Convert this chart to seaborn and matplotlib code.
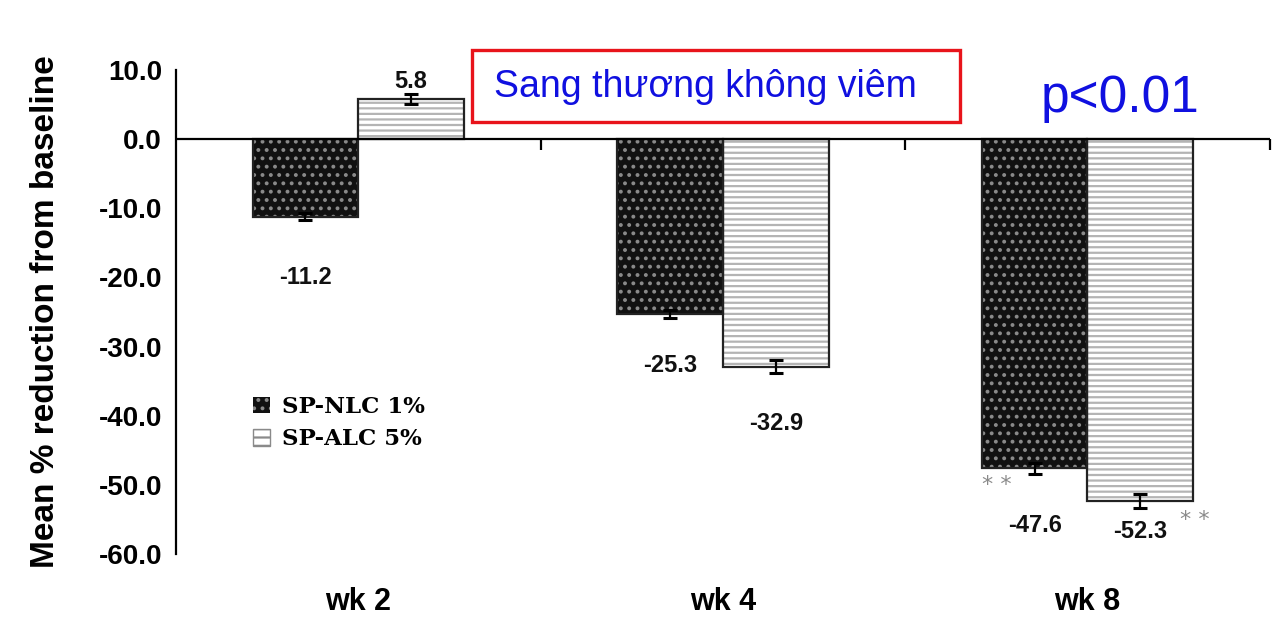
import matplotlib
matplotlib.use("Agg")
import matplotlib.pyplot as plt
import seaborn as sns
import pandas as pd
from matplotlib.patches import Patch, Rectangle

# chart data
weeks = ["wk 2", "wk 4", "wk 8"]
groups = ["SP-NLC 1%", "SP-ALC 5%"]
nlc_mean = [-11.2, -25.3, -47.6]
alc_mean = [5.8, -32.9, -52.3]
nlc_err = [0.5, 0.6, 0.8]
alc_err = [0.7, 0.9, 1.0]
y_ticks = [10, 0, -10, -20, -30, -40, -50, -60]
title_text = "Sang thương không viêm"
p_text = "p<0.01"
star_text = "* *"

df = pd.DataFrame({
    "week": weeks * 2,
    "group": [groups[0]] * 3 + [groups[1]] * 3,
    "mean": nlc_mean + alc_mean,
    "err": nlc_err + alc_err,
})

sns.set_theme(style="white")
plt.rcParams["font.family"] = ["Liberation Sans", "DejaVu Sans"]
plt.rcParams["hatch.linewidth"] = 1.6
for k in ["text.color", "axes.labelcolor", "xtick.color", "ytick.color"]:
    plt.rcParams[k] = "black"

fig = plt.figure(figsize=(12.8, 6.2), dpi=100)
ax = fig.add_axes([0.1375, 0.1065, 0.8545, 0.7805])

sns.barplot(data=df, x="week", y="mean", hue="group", order=weeks,
            hue_order=groups, width=0.58, errorbar=None, legend=False,
            palette=["#111111", "white"], saturation=1, ax=ax)

# bar styling: dotted dark bars, dashed light bars
styles = [dict(fc="#111111", ec="#8a8a8a", hatch="..")] * 3 + \
         [dict(fc="white", ec="#b4b4b4", hatch="---")] * 3
bars = list(ax.patches)
for p, st in zip(bars, styles):
    p.set_facecolor(st["fc"])
    p.set_edgecolor(st["ec"])
    p.set_hatch(st["hatch"])
    p.set_linewidth(0)
    ax.add_patch(Rectangle(p.get_xy(), p.get_width(), p.get_height(),
                           fill=False, ec="#222222", lw=1.6, zorder=3))

xs = [p.get_x() + p.get_width() / 2 for p in bars]
ys = [p.get_height() for p in bars]
ax.errorbar(xs, ys, yerr=df["err"], fmt="none", ecolor="black",
            elinewidth=1.6, capsize=5, capthick=2.2, zorder=4)

# value labels
label_offsets = [-44, -37, -41, 13, -41, -22]
for x, y, off in zip(xs, ys, label_offsets):
    ax.annotate(f"{y:.1f}", (x, y), xytext=(0, off), textcoords="offset points",
                ha="center", va="center", fontsize=17, fontweight="bold",
                color="#111111")

# significance stars on wk 8
ax.annotate(star_text, (xs[2], ys[2]), xytext=(-27, -12), textcoords="offset points",
            ha="center", va="center", fontsize=16, color="#8a8a8a",
            family="DejaVu Sans")
ax.annotate(star_text, (xs[5], ys[5]), xytext=(39, -14), textcoords="offset points",
            ha="center", va="center", fontsize=16, color="#8a8a8a",
            family="DejaVu Sans")

# axes
ax.set_ylim(-60, 10)
ax.set_xlim(-0.5, 2.5)
ax.set_yticks(y_ticks)
ax.set_yticklabels([f"{t:.1f}" for t in y_ticks], fontsize=20, fontweight="bold")
ax.tick_params(axis="y", direction="out", length=6, width=1.6, color="black", pad=4)
ax.tick_params(axis="x", length=0, pad=24)
ax.set_xticks(range(len(weeks)))
ax.set_xticklabels(weeks, fontsize=22, fontweight="bold")
ax.set_xlabel("")
ax.set_ylabel("Mean % reduction from baseline", fontsize=24, fontweight="bold",
              labelpad=27)
for s in ["top", "right", "bottom"]:
    ax.spines[s].set_visible(False)
ax.spines["left"].set_color("black")
ax.spines["left"].set_linewidth(1.6)
ax.axhline(0, color="black", lw=1.6, zorder=5)
ax.vlines([0.5, 1.5, 2.5], -1.5, 0, color="black", lw=1.6, clip_on=False)

# legend
handles = [Patch(fc="#111111", ec="#8a8a8a", hatch="..", lw=0),
           Patch(fc="white", ec="#8a8a8a", hatch="--", lw=1)]
leg = ax.legend(handles, groups, loc="upper left", bbox_to_anchor=(0.06, 0.35),
                frameon=False, borderpad=0, handlelength=0.75, handleheight=0.75,
                handletextpad=0.5, labelspacing=0.45,
                prop={"family": "DejaVu Serif", "weight": "bold", "size": 16.5})

# annotations above the plot
fig.patches.append(Rectangle((0.369, 0.803), 0.381, 0.116, transform=fig.transFigure,
                             fill=False, ec="#e8141b", lw=2.4))
fig.text(0.551, 0.844, title_text, ha="center", va="baseline", fontsize=27,
         color="#1010e0")
fig.text(0.875, 0.819, p_text, ha="center", va="baseline", fontsize=37,
         color="#1010e0")

fig.savefig("out.png", dpi=100)
